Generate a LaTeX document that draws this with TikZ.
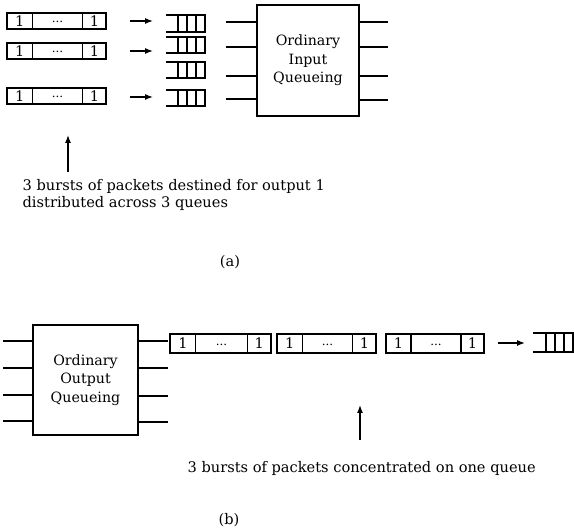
\documentclass[tikz,border=0pt]{standalone}
\usepackage{fontspec}
\setmainfont{DejaVu Serif}
\usetikzlibrary{arrows.meta}
\newcommand\burstbox[5]{% name, left x, top y, width, height
  \node[draw, inner sep=0pt, outer sep=0pt, minimum width=#4pt, minimum height=#5pt, anchor=north west] (#1) at (#2,#3) {};
  \draw (#2+0.255*#4,#3) -- ++(0,#5);
  \draw (#2+0.765*#4,#3) -- ++(0,#5);
  \node[cell] (#1l) at (#2+0.1275*#4,#3+0.5*#5) {1};
  \node[dots] (#1m) at (#2+0.51*#4,#3+0.5*#5+1) {...};
  \node[cell] (#1r) at (#2+0.8825*#4,#3+0.5*#5) {1};
}
\newcommand\queuebox[5]{% name, left x, top y, right x, bottom y
  \coordinate (#1) at ({0.5*(#2+#4)},{0.5*(#3+#5)});
  \draw (#2,#3) -- (#4,#3) -- (#4,#5) -- (#2,#5);
  \draw (#4-9,#3) -- (#4-9,#5);
  \draw (#4-18,#3) -- (#4-18,#5);
  \draw (#4-27,#3) -- (#4-27,#5);
}
\begin{document}
\begin{tikzpicture}[x=1pt,y=-1pt, line width=1.3pt,
  lbl/.style={font=\fontsize{14.6}{18}\selectfont, inner sep=0pt},
  cell/.style={font=\fontsize{14.5}{14.5}\selectfont, inner sep=0pt},
  dots/.style={font=\fontsize{12}{12}\selectfont, inner sep=0pt},
  arr/.style={-{Latex[length=8pt,width=6pt]}},
  bigbox/.style={draw, font=\fontsize{14.2}{18.5}\selectfont, align=center, inner sep=0pt, outer sep=0pt}]
\useasboundingbox (0,0) rectangle (574,529);

% ---------- (a) ----------
\burstbox{ba}{7}{13}{99}{16}
\burstbox{bb}{7}{43}{99}{16}
\burstbox{bc}{7}{88}{99}{16}

\coordinate (a1s) at (130,21); \coordinate (a1e) at (153,21);
\coordinate (a2s) at (130,51); \coordinate (a2e) at (153,51);
\coordinate (a3s) at (130,97); \coordinate (a3e) at (153,97);
\draw[arr] (a1s) -- (a1e);
\draw[arr] (a2s) -- (a2e);
\draw[arr] (a3s) -- (a3e);

\queuebox{qa}{166}{15}{205}{32}
\queuebox{qb}{166}{37}{205}{53}
\queuebox{qc}{166}{62}{205}{78}
\queuebox{qd}{166}{90}{205}{106}

\node[bigbox, minimum width=102pt, minimum height=111pt] (inq) at (308,60.5) {Ordinary\\Input\\Queueing};
\foreach \yy in {22,47,76,99} {
  \draw (inq.west |- 0,\yy) -- ++(-31,0);
}
\foreach \yy in {22,47,76,100} {
  \draw (inq.east |- 0,\yy) -- ++(29,0);
}

\coordinate (upa0) at (68,172); \coordinate (upa1) at (68,135);
\draw[arr] (upa0) -- (upa1);
\node[lbl, anchor=base west] (ta1) at (22,191) {3 bursts of packets destined for output 1};
\node[lbl, anchor=base west] (ta2) at (22,208) {distributed across 3 queues};
\node[lbl] (capa) at (230,262) {(a)};

% ---------- (b) ----------
\node[bigbox, minimum width=105pt, minimum height=110pt] (outq) at (85.5,380) {Ordinary\\Output\\Queueing};
\foreach \yy in {341,368,395,421} {
  \draw (outq.west |- 0,\yy) -- ++(-30,0);
}
\foreach \yy in {341,368,396,422} {
  \draw (outq.east |- 0,\yy) -- ++(30,0);
}
\burstbox{bd}{170}{334}{101}{19}
\burstbox{be}{277}{334}{99}{19}
\burstbox{bf}{386}{334}{98}{19}

\coordinate (b1s) at (498,343); \coordinate (b1e) at (525,343);
\draw[arr] (b1s) -- (b1e);
\queuebox{qe}{533}{333}{573}{352}

\coordinate (upb0) at (360,440); \coordinate (upb1) at (360,405);
\draw[arr] (upb0) -- (upb1);
\node[lbl, anchor=base west] (tb1) at (187,473) {3 bursts of packets concentrated on one queue};
\node[lbl] (capb) at (229,520) {(b)};
\end{tikzpicture}
\end{document}
